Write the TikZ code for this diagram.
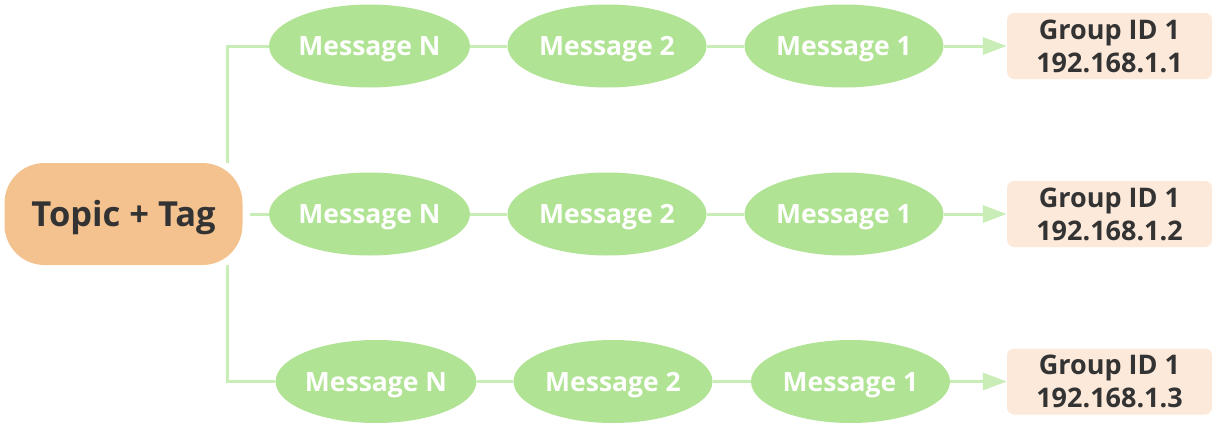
\documentclass[tikz,border=0pt]{standalone}
\usepackage{fontspec}
\setmainfont{Open Sans}
\usetikzlibrary{arrows.meta,shapes.geometric}
\definecolor{msgfill}{HTML}{B1E394}
\definecolor{linecol}{HTML}{C8EDB6}
\definecolor{topicfill}{HTML}{F4C28F}
\definecolor{boxfill}{HTML}{FCE9DA}
\definecolor{txt}{HTML}{333333}
\tikzset{
  msg/.style={ellipse, fill=msgfill, minimum width=199pt, minimum height=83pt, inner sep=0pt,
    text=white, font=\fontsize{26.5}{30}\selectfont\bfseries, text height=19pt, text depth=0pt},
  topicbox/.style={rectangle, rounded corners=40pt, fill=topicfill, minimum width=238pt, minimum height=102pt,
    inner sep=0pt, text=txt, font=\fontsize{34.5}{40}\selectfont\bfseries, text height=25pt, text depth=0pt},
  grp/.style={rectangle, rounded corners=7pt, fill=boxfill, minimum width=205pt, minimum height=66pt, inner sep=0pt,
    text=txt, align=center, font=\fontsize{27}{33}\selectfont\bfseries},
  link/.style={draw=linecol, line width=3pt},
  arr/.style={link, -{Triangle[length=24pt,width=17pt]}}
}
\begin{document}
\begin{tikzpicture}[x=1pt,y=-1pt]
\useasboundingbox (0,0) rectangle (1229,431);
\node[topicbox] (topic) at (123.5,214) {Topic + Tag};
% row 1
\node[msg] (aN) at (369.5,46) {Message N};
\node[msg] (a2) at (607,46) {Message 2};
\node[msg] (a1) at (844,46) {Message 1};
\node[grp] (ga) at (1109.5,46) {Group ID 1\\192.168.1.1};
% row 2
\node[msg] (bN) at (369.5,214) {Message N};
\node[msg] (b2) at (607,214) {Message 2};
\node[msg] (b1) at (844,214) {Message 1};
\node[grp] (gb) at (1109.5,214) {Group ID 1\\192.168.1.2};
% row 3
\node[msg] (cN) at (376,381.5) {Message N};
\node[msg] (c2) at (613,381.5) {Message 2};
\node[msg] (c1) at (850.5,381.5) {Message 1};
\node[grp] (gc) at (1109.5,381.5) {Group ID 1\\192.168.1.3};
% trunk
\draw[link] ([xshift=-15pt]topic.north east) |- (aN.west);
\draw[link] ([xshift=7pt]topic.east) -- (bN.west);
\draw[link] ([xshift=-15pt]topic.south east) |- (cN.west);
% chains
\draw[link] (aN) -- (a2); \draw[link] (a2) -- (a1); \draw[arr] (a1) -- (ga);
\draw[link] (bN) -- (b2); \draw[link] (b2) -- (b1); \draw[arr] (b1) -- (gb);
\draw[link] (cN) -- (c2); \draw[link] (c2) -- (c1); \draw[arr] (c1) -- (gc);
\end{tikzpicture}
\end{document}
